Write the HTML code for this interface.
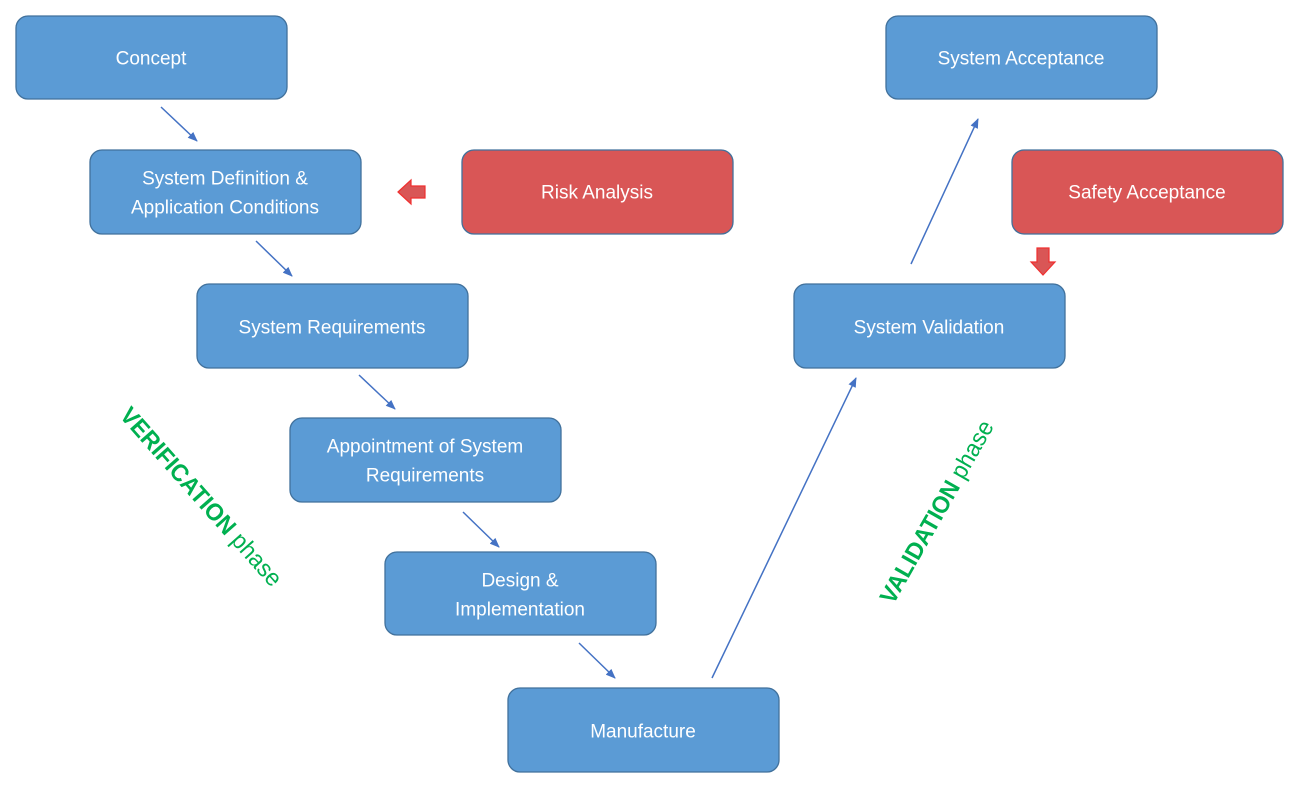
<!DOCTYPE html>
<html><head><meta charset="utf-8"><style>
html,body{margin:0;padding:0;background:#fff;}
svg{display:block;}
.b{fill:#5B9BD5;stroke:#41719C;stroke-width:1.3;}
.r{fill:#D95656;stroke:#41719C;stroke-width:1.3;}
.t{font-family:"Liberation Sans",sans-serif;font-size:19px;fill:#fff;text-anchor:middle;dominant-baseline:central;}
.l{stroke:#4472C4;stroke-width:1.5;fill:none;marker-end:url(#ah);}
.g{font-family:"Liberation Sans",sans-serif;font-size:24px;fill:#00B050;text-anchor:middle;dominant-baseline:central;}
</style></head><body>
<svg width="1294" height="785" viewBox="0 0 1294 785">
<defs><marker id="ah" markerWidth="10" markerHeight="8" refX="9" refY="4" orient="auto" markerUnits="userSpaceOnUse"><path d="M0,0 L10,4 L0,8 z" fill="#4472C4"/></marker></defs>
<rect class="b" x="16" y="16" width="271" height="83" rx="12"/><text class="t" x="151" y="59">Concept</text>
<rect class="b" x="90" y="150" width="271" height="84" rx="12"/><text class="t" x="225" y="179">System Definition &amp;</text><text class="t" x="225" y="208">Application Conditions</text>
<rect class="r" x="462" y="150" width="271" height="84" rx="12"/><text class="t" x="597" y="193">Risk Analysis</text>
<rect class="b" x="197" y="284" width="271" height="84" rx="12"/><text class="t" x="332" y="328">System Requirements</text>
<rect class="b" x="290" y="418" width="271" height="84" rx="12"/><text class="t" x="425" y="447">Appointment of System</text><text class="t" x="425" y="476">Requirements</text>
<rect class="b" x="385" y="552" width="271" height="83" rx="12"/><text class="t" x="520" y="581">Design &amp;</text><text class="t" x="520" y="610">Implementation</text>
<rect class="b" x="508" y="688" width="271" height="84" rx="12"/><text class="t" x="643" y="732">Manufacture</text>
<rect class="b" x="794" y="284" width="271" height="84" rx="12"/><text class="t" x="929" y="328">System Validation</text>
<rect class="b" x="886" y="16" width="271" height="83" rx="12"/><text class="t" x="1021" y="59">System Acceptance</text>
<rect class="r" x="1012" y="150" width="271" height="84" rx="12"/><text class="t" x="1147" y="193">Safety Acceptance</text>
<line class="l" x1="161" y1="107" x2="197" y2="141"/>
<line class="l" x1="256" y1="241" x2="292" y2="276"/>
<line class="l" x1="359" y1="375" x2="395" y2="409"/>
<line class="l" x1="463" y1="512" x2="499" y2="547"/>
<line class="l" x1="579" y1="643" x2="615" y2="678"/>
<line class="l" x1="712" y1="678" x2="856" y2="378"/>
<line class="l" x1="911" y1="264" x2="978" y2="119"/>
<path d="M398,192 L411,180 L411,186 L425,186 L425,198 L411,198 L411,204 z" fill="#D95656" stroke="#F03030" stroke-width="1.2"/>
<path d="M1037,248 L1049,248 L1049,262 L1055,262 L1043,275 L1031,262 L1037,262 z" fill="#D95656" stroke="#F03030" stroke-width="1.2"/>
<text class="g" transform="translate(201,497) rotate(48.5)" textLength="230" lengthAdjust="spacingAndGlyphs"><tspan font-weight="bold">VERIFICATION</tspan> phase</text>
<text class="g" transform="translate(937,512) rotate(-60.4)" textLength="206" lengthAdjust="spacingAndGlyphs"><tspan font-weight="bold">VALIDATION</tspan> phase</text>
</svg>
</body></html>
